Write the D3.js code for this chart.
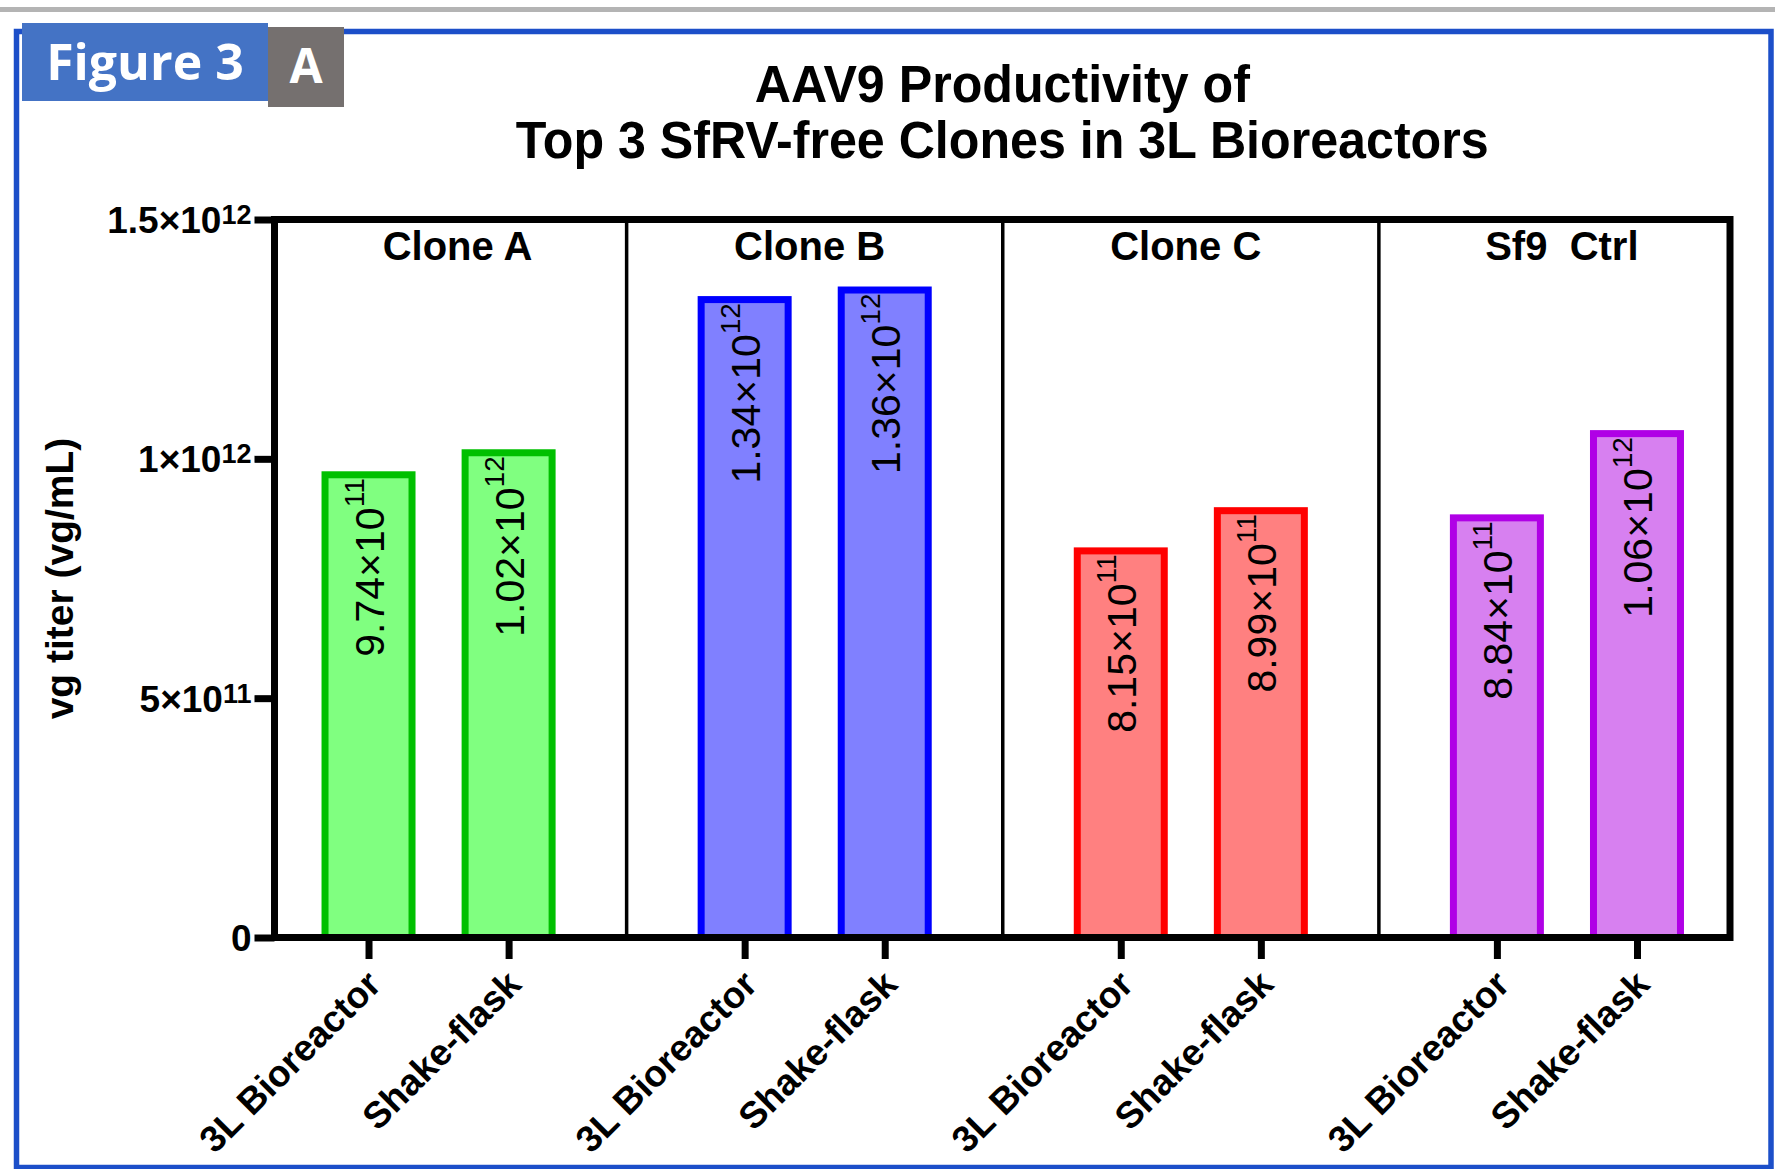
<!DOCTYPE html>
<html>
<head>
<meta charset="utf-8">
<script src="https://cdn.jsdelivr.net/npm/d3@7"></script>
<style>
  body { margin: 0; background: #fff; }
  svg text { font-family: "Liberation Sans", Arial, sans-serif; }
</style>
</head>
<body>
<div id="chart-area"></div>
<script>
const clones = ["Clone A", "Clone B", "Clone C", "Sf9  Ctrl"];
const conditions = ["3L Bioreactor", "Shake-flask"];
const bioreactorTiter = [9.74e11, 1.34e12, 8.15e11, 8.84e11];
const shakeFlaskTiter = [1.02e12, 1.36e12, 8.99e11, 1.06e12];
const yTickValues = [0, 5e11, 1e12, 1.5e12];
const titleLines = ["AAV9 Productivity of", "Top 3 SfRV-free Clones in 3L Bioreactors"];
const yAxisTitle = "vg titer (vg/mL)";

const strokeColors = ["#00c000", "#0000ff", "#ff0000", "#b000e6"];
const fillColors = ["#80ff80", "#8080ff", "#ff8080", "#d780f0"];

const chartSize = { width: 1775, height: 1169 };
const plot = { left: 274.5, right: 1730, top: 219.5, bottom: 937.5 };

const rows = clones.flatMap((clone, i) => [
  { clone, condition: conditions[0], value: bioreactorTiter[i], i },
  { clone, condition: conditions[1], value: shakeFlaskTiter[i], i }
]);

// split 9.74e11 -> ["9.74", "11"]
const splitSci = (v, fixed) => {
  if (v === 0) return ["0", ""];
  const e = Math.floor(Math.log10(v) + 1e-9);
  const m = v / Math.pow(10, e);
  return [fixed ? m.toFixed(2) : String(+m.toFixed(2)), String(e)];
};

const y = d3.scaleLinear().domain([0, 1.5e12]).range([plot.bottom, plot.top]);

const xGroup = d3
  .scaleBand()
  .domain(clones)
  .range([plot.left - 24, plot.right + 25]);

const xCond = d3
  .scaleBand()
  .domain(conditions)
  .range([0, xGroup.bandwidth()])
  .paddingInner(0.379)
  .paddingOuter(0.532);

const barKey = r => r.clone + "|" + r.condition;
const barCenter = r => xGroup(r.clone) + xCond(r.condition) + xCond.bandwidth() / 2;
const xTick = d3
  .scaleOrdinal()
  .domain(rows.map(barKey))
  .range(rows.map(barCenter));

// group title placed from the left edge of its visible panel
const groupLabelX = d => Math.max(xGroup(d), plot.left) + 183;

const svg = d3
  .select("#chart-area")
  .append("svg")
  .attr("width", chartSize.width)
  .attr("height", chartSize.height);

// page decoration
svg.append("rect")
  .attr("x", 0).attr("y", 7).attr("width", chartSize.width).attr("height", 5)
  .attr("fill", "#b4b4b4");

svg.append("rect")
  .attr("x", 16.5).attr("y", 31.5)
  .attr("width", 1771 - 16.5).attr("height", 1167.5 - 31.5)
  .attr("fill", "none").attr("stroke", "#1c4fc9").attr("stroke-width", 5.5);

svg.append("rect")
  .attr("x", 22).attr("y", 23).attr("width", 246).attr("height", 78)
  .attr("fill", "#4473c5");
svg.append("text")
  .attr("x", 145).attr("y", 80)
  .attr("text-anchor", "middle")
  .attr("fill", "#fff")
  .style("font-family", "'Open Sans', sans-serif")
  .style("font-weight", 700)
  .style("font-size", "50px")
  .text("Figure 3");

svg.append("rect")
  .attr("x", 268).attr("y", 27).attr("width", 76).attr("height", 80)
  .attr("fill", "#75706f");
svg.append("text")
  .attr("x", 306).attr("y", 83)
  .attr("text-anchor", "middle")
  .attr("fill", "#fff")
  .style("font-family", "'Open Sans', sans-serif")
  .style("font-weight", 700)
  .style("font-size", "48px")
  .text("A");

// title
svg.selectAll(".title")
  .data(titleLines)
  .enter()
  .append("text")
  .attr("class", "title")
  .attr("transform", (d, i) => `translate(${(plot.left + plot.right) / 2},${102 + i * 56}) scale(0.965,1)`)
  .attr("text-anchor", "middle")
  .style("font-weight", "bold")
  .style("font-size", "52px")
  .text(d => d);

// group dividers
svg.append("g")
  .selectAll("line")
  .data(clones.slice(1))
  .enter()
  .append("line")
  .attr("x1", d => xGroup(d)).attr("x2", d => xGroup(d))
  .attr("y1", plot.top).attr("y2", plot.bottom)
  .attr("stroke", "#000").attr("stroke-width", 3.5);

// bars
const sw = 7;
svg.append("g")
  .selectAll("rect")
  .data(rows)
  .enter()
  .append("rect")
  .attr("x", r => xGroup(r.clone) + xCond(r.condition))
  .attr("y", r => y(r.value) + sw / 2)
  .attr("width", xCond.bandwidth())
  .attr("height", r => y(0) - y(r.value) - sw / 2)
  .attr("fill", r => fillColors[r.i])
  .attr("stroke", r => strokeColors[r.i])
  .attr("stroke-width", sw);

// value labels, rotated inside bars
const valueLabels = svg.append("g")
  .selectAll("text")
  .data(rows)
  .enter()
  .append("text")
  .attr("transform", r => `translate(${barCenter(r)},${y(r.value) + 7}) rotate(-90)`)
  .attr("text-anchor", "end")
  .attr("y", 15)
  .style("font-size", "41px");
valueLabels.each(function (r) {
  const [m, e] = splitSci(r.value, true);
  const t = d3.select(this);
  t.append("tspan").text(m + "×10");
  t.append("tspan").attr("dy", -20).style("font-size", "28px").text(e);
});

// group titles
svg.append("g")
  .selectAll("text")
  .data(clones)
  .enter()
  .append("text")
  .attr("x", groupLabelX)
  .attr("y", 260)
  .attr("text-anchor", "middle")
  .style("white-space", "pre")
  .style("font-weight", "bold")
  .style("font-size", "40px")
  .text(d => d);

// plot frame
svg.append("rect")
  .attr("x", plot.left).attr("y", plot.top)
  .attr("width", plot.right - plot.left).attr("height", plot.bottom - plot.top)
  .attr("fill", "none").attr("stroke", "#000").attr("stroke-width", 7);

// y axis
const yAxis = d3.axisLeft(y).tickValues(yTickValues).tickSize(20).tickFormat("");
const gy = svg.append("g")
  .attr("transform", `translate(${plot.left},0)`)
  .call(yAxis);
gy.select(".domain").remove();
gy.selectAll(".tick line").attr("stroke-width", 7);
gy.selectAll(".tick text").remove();
gy.selectAll(".tick").each(function (v) {
  const [m, e] = splitSci(v, false);
  const t = d3.select(this).append("text")
    .attr("x", -23)
    .attr("y", 13)
    .attr("text-anchor", "end")
    .attr("fill", "#000")
    .style("font-weight", "bold")
    .style("font-size", "37px");
  t.append("tspan").text(e ? m + "×10" : m);
  if (e) t.append("tspan").attr("dy", -9).style("font-size", "27px").text(e);
});

// x axis
const xAxis = d3.axisBottom(xTick).tickSize(21.5).tickSizeOuter(0)
  .tickFormat(k => k.split("|")[1]);
const gx = svg.append("g")
  .attr("transform", `translate(0,${plot.bottom})`)
  .call(xAxis);
gx.select(".domain").remove();
gx.selectAll(".tick line").attr("stroke-width", 7);
gx.selectAll(".tick text")
  .attr("x", null).attr("y", null).attr("dy", null)
  .attr("transform", "translate(14,49) rotate(-45)")
  .attr("text-anchor", "end")
  .attr("fill", "#000")
  .style("font-family", "'Liberation Sans', Arial, sans-serif")
  .style("font-weight", "bold")
  .style("font-size", "37px");

// y axis title
svg.append("text")
  .attr("transform", `translate(73,${(plot.top + plot.bottom) / 2}) rotate(-90)`)
  .attr("text-anchor", "middle")
  .style("font-weight", "bold")
  .style("font-size", "39px")
  .text(yAxisTitle);
</script>
</body>
</html>
